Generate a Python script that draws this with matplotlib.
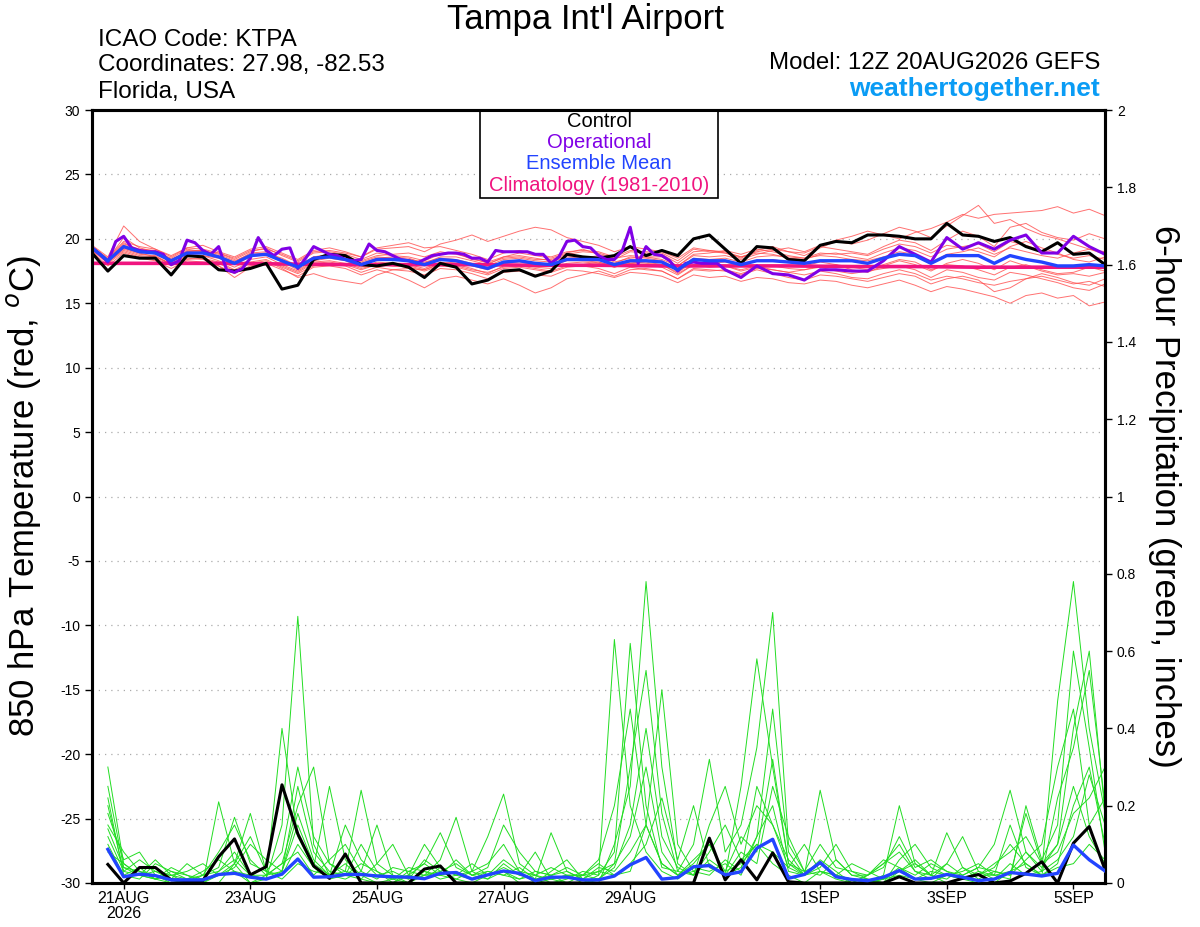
import numpy as np
import matplotlib
matplotlib.use("Agg")
import matplotlib.pyplot as plt
from matplotlib.patches import Rectangle

plt.rcParams['font.family'] = ['Liberation Sans', 'DejaVu Sans']
plt.rcParams['axes.unicode_minus'] = False

# forecast hours from 12Z 20AUG2026 (6-hourly, 0..384)
hours = list(range(0, 385, 6))
precip_hours = hours[1:]

date_ticks = [12, 60, 108, 156, 204, 276, 324, 372]
date_labels = ['21AUG\n2026', '23AUG', '25AUG', '27AUG', '29AUG', '1SEP', '3SEP', '5SEP']

# climatology, one value per day
clim_hours = list(range(0, 385, 24))
clim_temp = [18.1, 18.1, 18.1, 18.05, 18.0, 18.0, 18.0, 17.95, 17.95, 17.9,
             17.9, 17.9, 17.85, 17.85, 17.8, 17.8, 17.8]

mean_temp = [19.3, 18.3, 19.4, 19.0, 18.9, 18.3, 18.9, 18.9, 18.6, 18.1,
             18.7, 18.8, 18.3, 17.8, 18.5, 18.6, 18.4, 18.0, 18.4, 18.4,
             18.3, 18.0, 18.4, 18.3, 18.0, 17.7, 18.2, 18.3, 18.1, 18.0,
             18.4, 18.4, 18.4, 18.0, 18.3, 18.3, 18.2, 17.6, 18.4, 18.3,
             18.3, 18.0, 18.3, 18.3, 18.2, 18.1, 18.3, 18.3, 18.3, 18.1,
             18.5, 18.8, 18.7, 18.1, 18.7, 18.7, 18.7, 18.1, 18.7, 18.4,
             18.2, 17.9, 17.9, 18.0, 17.9]

control_temp = [18.9, 17.5, 18.7, 18.5, 18.5, 17.2, 18.7, 18.6, 17.6, 17.5,
                17.7, 18.1, 16.1, 16.4, 18.4, 18.8, 18.7, 18.0, 17.9, 18.1,
                17.8, 17.0, 18.1, 17.8, 16.5, 16.8, 17.5, 17.6, 17.1, 17.5,
                18.8, 18.6, 18.5, 18.7, 19.4, 18.7, 19.1, 18.7, 20.0, 20.3,
                19.2, 18.1, 19.4, 19.3, 18.4, 18.3, 19.5, 19.8, 19.7, 20.3,
                20.3, 20.2, 20.0, 20.0, 21.2, 20.3, 20.2, 19.8, 20.1, 19.4,
                19.0, 19.7, 18.8, 18.9, 18.0]

# operational run: 3-hourly to 240 h, 6-hourly after
op_hours = list(range(0, 241, 3)) + list(range(246, 385, 6))
op_temp = [19.3, 18.8, 18.2, 19.8, 20.2, 19.3, 19.1, 19.0, 19.0, 18.8,
           18.0, 18.3, 19.9, 19.7, 19.1, 18.8, 19.4, 17.6, 17.4, 17.7,
           18.5, 20.1, 19.1, 18.7, 19.2, 19.3, 17.7, 18.5, 19.4, 19.1,
           18.8, 18.7, 18.4, 18.3, 18.4, 19.6, 19.1, 19.0, 18.7, 18.4,
           18.3, 18.1, 18.4, 18.7, 18.8, 18.9, 18.9, 18.8, 18.5, 18.5,
           18.2, 19.1, 19.0, 19.0, 19.0, 19.0, 18.8, 18.8, 18.1, 18.6,
           19.8, 19.9, 19.4, 19.3, 18.7, 18.4, 18.4, 19.1, 20.9, 18.1,
           19.4, 18.8, 18.7, 18.3, 17.5, 18.1, 18.2, 18.1, 18.1, 18.1,
           17.6,
           17.0, 17.9, 17.3, 17.2, 16.8, 17.6, 17.6, 17.5, 17.5, 18.3,
           19.4, 18.8, 18.2, 20.1, 19.2, 19.7, 19.2, 19.9, 20.3, 18.9,
           18.9, 20.2, 19.4, 18.8]

# ensemble members, 850 hPa temperature
mem_t01 = [19.4, 18.4, 20.1, 19.3, 19.0, 18.5, 19.2, 19.0, 18.9, 18.4,
           19.0, 19.3, 18.7, 18.2, 18.9, 19.0, 18.8, 18.4, 18.9, 18.7,
           18.6, 18.3, 18.8, 18.9, 18.4, 18.2, 18.6, 18.9, 18.7, 18.5,
           18.9, 19.2, 18.8, 18.4, 19.0, 18.9, 18.8, 18.1, 19.0, 19.1,
           18.9, 18.5, 19.1, 19.4, 19.0, 18.7, 19.3, 19.8, 19.6, 19.9,
           20.4, 20.9, 20.6, 20.1, 21.0, 21.8, 22.6, 21.2, 21.5, 20.8,
           20.3, 20.0, 19.6, 19.2, 19.0]
mem_t02 = [19.1, 18.1, 19.0, 18.6, 18.5, 17.9, 18.4, 18.5, 18.2, 17.6,
           18.2, 18.4, 17.8, 17.3, 17.9, 18.1, 17.9, 17.4, 17.8, 17.6,
           17.5, 17.2, 17.7, 17.6, 17.3, 16.9, 17.4, 17.5, 17.2, 17.1,
           17.6, 17.5, 17.3, 17.0, 17.4, 17.3, 17.1, 16.6, 17.2, 17.0,
           17.1, 16.7, 17.0, 16.9, 16.6, 16.5, 16.8, 16.7, 16.4, 16.2,
           16.5, 16.8, 16.4, 15.9, 16.3, 16.1, 15.8, 15.5, 15.0, 15.6,
           15.8, 15.4, 15.6, 14.8, 15.1]
mem_t03 = [19.5, 18.6, 21.0, 19.8, 19.2, 18.6, 19.3, 19.5, 19.0, 18.6,
           19.2, 19.4, 18.9, 18.4, 19.1, 19.3, 19.0, 18.6, 19.2, 19.3,
           19.4, 19.0, 19.6, 19.9, 20.3, 19.8, 20.2, 20.6, 20.9, 20.7,
           20.1, 19.8, 19.5, 19.0, 19.4, 19.2, 19.0, 18.5, 19.3, 19.1,
           19.0, 18.6, 18.9, 18.8, 18.5, 18.4, 18.8, 18.9, 18.6, 18.4,
           18.9, 19.3, 19.1, 18.6, 19.2, 19.4, 19.6, 19.0, 19.8, 19.5,
           19.1, 18.8, 18.5, 18.7, 18.4]
mem_t04 = [19.0, 17.9, 18.9, 18.5, 18.3, 17.7, 18.3, 18.2, 17.9, 17.3,
           17.9, 18.1, 17.6, 17.1, 17.8, 17.9, 17.7, 17.2, 17.6, 17.3,
           16.8, 16.2, 16.9, 17.1, 16.8, 16.5, 16.9, 16.4, 15.8, 16.2,
           16.9, 17.2, 17.5, 17.1, 17.6, 17.7, 17.5, 16.9, 17.6, 17.5,
           17.6, 17.3, 17.7, 17.6, 17.4, 17.2, 17.5, 17.3, 17.0, 16.9,
           17.3, 17.6, 17.3, 16.8, 17.1, 16.9, 16.6, 16.4, 16.7, 16.9,
           17.1, 16.8, 16.5, 16.7, 16.3]
mem_t05 = [19.3, 18.3, 19.6, 19.2, 19.1, 18.4, 19.0, 19.1, 18.8, 18.3,
           18.8, 18.9, 18.5, 17.9, 18.6, 18.7, 18.6, 18.2, 18.6, 18.5,
           18.4, 18.2, 18.5, 18.4, 18.1, 17.9, 18.4, 18.5, 18.3, 18.2,
           18.6, 18.5, 18.7, 18.2, 18.5, 18.6, 18.4, 17.9, 18.7, 18.6,
           18.7, 18.4, 18.8, 19.1, 19.3, 19.0, 19.5, 19.9, 20.2, 20.6,
           20.3, 20.0, 20.5, 20.8, 21.3, 21.9, 21.6, 21.9, 22.0, 22.1,
           22.2, 22.5, 22.0, 22.3, 21.8]
mem_t06 = [19.2, 18.2, 19.2, 18.8, 18.7, 18.0, 18.6, 18.7, 18.3, 17.8,
           18.4, 18.6, 18.0, 17.5, 18.2, 18.3, 18.1, 17.7, 18.0, 17.9,
           17.8, 17.5, 17.9, 17.8, 17.5, 17.2, 17.7, 17.8, 17.6, 17.4,
           17.8, 17.9, 17.7, 17.3, 17.8, 17.6, 17.5, 16.9, 17.7, 17.6,
           17.5, 17.2, 17.6, 17.3, 17.0, 16.8, 17.2, 17.1, 16.9, 16.7,
           17.0, 17.3, 17.1, 16.5, 16.9, 17.1, 16.8, 15.9, 16.2, 16.9,
           17.3, 17.0, 16.6, 16.4, 16.9]
mem_t07 = [19.4, 18.5, 19.8, 19.4, 19.2, 18.7, 19.3, 19.2, 18.9, 18.5,
           19.1, 19.2, 18.8, 18.3, 19.0, 19.1, 18.9, 18.6, 19.3, 19.5,
           19.7, 19.3, 19.4, 19.1, 18.8, 18.4, 18.9, 19.1, 18.8, 18.6,
           19.0, 19.1, 19.0, 18.6, 19.1, 19.0, 18.9, 18.3, 19.2, 19.0,
           18.9, 18.6, 19.0, 19.2, 19.0, 18.9, 19.4, 19.2, 19.0, 18.8,
           19.4, 19.9, 19.7, 19.1, 19.9, 20.6, 20.2, 19.4, 20.9, 21.2,
           20.5, 20.1, 19.9, 20.4, 20.0]
mem_t08 = [19.2, 18.3, 19.5, 19.1, 18.8, 18.2, 18.8, 18.7, 18.5, 18.0,
           18.6, 18.8, 18.2, 17.6, 18.3, 18.5, 18.3, 17.8, 18.2, 18.1,
           18.0, 17.7, 18.2, 18.0, 17.7, 17.3, 17.9, 18.0, 17.8, 17.7,
           18.1, 18.2, 18.1, 17.8, 18.1, 18.2, 18.0, 17.4, 18.2, 18.1,
           18.2, 17.9, 18.3, 18.4, 18.2, 17.9, 18.2, 18.0, 17.6, 17.4,
           17.9, 18.3, 18.0, 17.5, 18.1, 18.4, 18.1, 17.6, 18.3, 17.9,
           17.5, 17.2, 17.3, 17.1, 17.4]
mem_t09 = [19.3, 18.4, 19.3, 18.9, 19.0, 18.4, 19.0, 19.0, 18.7, 18.2,
           18.9, 19.0, 18.4, 17.9, 18.5, 18.6, 18.5, 18.1, 18.5, 18.6,
           18.5, 18.1, 18.6, 18.6, 18.3, 18.0, 18.6, 18.7, 18.5, 18.3,
           18.7, 18.6, 18.5, 18.1, 18.6, 18.5, 18.3, 17.7, 18.5, 18.4,
           18.5, 18.2, 18.6, 18.7, 18.6, 18.5, 18.9, 18.8, 18.9, 18.7,
           19.2, 19.6, 19.4, 18.9, 19.5, 19.3, 19.0, 18.6, 19.4, 19.8,
           19.3, 18.9, 18.4, 18.2, 18.6]
mem_t10 = [19.1, 18.2, 19.1, 18.7, 18.6, 18.0, 18.5, 18.4, 18.1, 17.5,
           18.1, 18.3, 17.7, 17.0, 17.3, 16.9, 16.7, 16.5, 17.2, 17.6,
           17.7, 17.6, 18.0, 17.9, 17.6, 17.4, 17.8, 17.9, 17.7, 17.5,
           17.9, 18.0, 18.2, 17.9, 18.1, 18.0, 17.8, 17.2, 18.0, 18.0,
           17.9, 17.6, 17.9, 17.6, 17.4, 17.6, 17.8, 17.5, 17.3, 17.5,
           17.7, 17.9, 17.6, 17.0, 17.6, 17.4, 17.0, 16.8, 17.4, 17.2,
           16.9, 16.6, 16.2, 16.0, 16.5]
mem_t11 = [19.4, 18.4, 19.7, 19.1, 19.0, 18.3, 19.1, 19.1, 18.6, 18.1,
           18.7, 18.8, 18.3, 17.9, 18.6, 18.8, 18.6, 18.3, 18.7, 18.8,
           18.9, 18.6, 19.0, 18.8, 18.5, 18.1, 18.5, 18.6, 18.4, 18.4,
           18.8, 19.0, 18.9, 18.5, 18.7, 18.6, 18.6, 17.9, 18.8, 18.9,
           19.1, 18.8, 19.2, 19.0, 18.7, 18.5, 18.7, 18.6, 18.4, 18.3,
           18.6, 19.0, 18.8, 18.2, 18.8, 19.0, 19.3, 18.8, 19.3, 19.0,
           18.7, 18.5, 18.9, 19.2, 18.8]
mem_t12 = [19.2, 18.2, 19.3, 18.9, 18.6, 18.1, 18.7, 18.6, 17.9, 17.0,
           17.8, 18.2, 17.9, 17.4, 18.1, 18.2, 18.0, 17.6, 18.0, 17.9,
           17.9, 17.6, 18.1, 18.2, 17.9, 17.6, 18.1, 18.2, 18.0, 17.9,
           18.3, 18.3, 18.2, 17.8, 18.2, 18.1, 18.0, 17.3, 18.0, 17.8,
           17.9, 17.5, 17.8, 17.9, 17.7, 17.6, 17.9, 18.0, 17.8, 17.6,
           18.0, 18.4, 18.2, 17.6, 18.0, 17.9, 17.6, 17.2, 17.8, 18.0,
           17.6, 17.3, 17.4, 17.8, 17.5]

# 6-hour precipitation (inches), hours 6..384
mean_precip = [0.087, 0.016, 0.023, 0.019, 0.008, 0.008, 0.008, 0.022, 0.025, 0.015,
               0.010, 0.023, 0.062, 0.015, 0.016, 0.022, 0.022, 0.018, 0.016, 0.015,
               0.011, 0.025, 0.027, 0.010, 0.021, 0.031, 0.025, 0.006, 0.015, 0.015,
               0.008, 0.008, 0.018, 0.047, 0.066, 0.010, 0.014, 0.042, 0.045, 0.021,
               0.029, 0.090, 0.113, 0.012, 0.022, 0.053, 0.016, 0.009, 0.006, 0.015,
               0.032, 0.010, 0.012, 0.022, 0.015, 0.006, 0.010, 0.027, 0.023, 0.018,
               0.025, 0.098, 0.060, 0.031]
control_precip = [0.048, 0.0, 0.040, 0.040, 0.008, 0.006, 0.006, 0.068, 0.114, 0.021,
                  0.042, 0.254, 0.127, 0.044, 0.012, 0.075, 0.0, 0.0, 0.0, 0.0,
                  0.036, 0.044, 0.0, 0.0, 0.0, 0.0, 0.0, 0.0, 0.0, 0.0,
                  0.0, 0.0, 0.0, 0.0, 0.0, 0.0, 0.0, 0.0, 0.116, 0.008,
                  0.060, 0.008, 0.078, 0.003, 0.0, 0.0, 0.0, 0.0, 0.0, 0.0,
                  0.016, 0.0, 0.0, 0.0, 0.012, 0.022, 0.0, 0.005, 0.025, 0.055,
                  0.0, 0.103, 0.146, 0.034]

mem_p01 = [0.30, 0.05, 0.02, 0.01, 0, 0, 0, 0.03, 0.08, 0.02,
           0.01, 0.15, 0.69, 0.10, 0.02, 0.05, 0.01, 0, 0, 0.03,
           0.05, 0.02, 0.01, 0, 0.02, 0.06, 0.03, 0, 0.01, 0.02,
           0, 0.01, 0.05, 0.12, 0.30, 0.08, 0.02, 0.05, 0.10, 0.02,
           0.04, 0.12, 0.20, 0.03, 0.02, 0.06, 0.03, 0, 0, 0.01,
           0.04, 0.01, 0, 0.02, 0.01, 0, 0, 0.03, 0.08, 0.04,
           0.10, 0.25, 0.12, 0.05]
mem_p02 = [0.20, 0.03, 0.06, 0.03, 0.02, 0, 0, 0, 0.05, 0.18,
           0.03, 0.02, 0.10, 0.04, 0.25, 0.06, 0.02, 0, 0.01, 0,
           0.02, 0.06, 0.17, 0.03, 0.01, 0.03, 0, 0, 0.03, 0.06,
           0.01, 0, 0.10, 0.25, 0.78, 0.30, 0.05, 0.02, 0.08, 0.15,
           0.06, 0.10, 0.05, 0.02, 0, 0.03, 0.01, 0, 0.02, 0.05,
           0.10, 0.03, 0.02, 0, 0.01, 0.02, 0.04, 0.10, 0.05, 0.02,
           0.05, 0.20, 0.30, 0.10]
mem_p03 = [0.15, 0.08, 0.03, 0.01, 0.04, 0.02, 0, 0.21, 0.05, 0,
           0.02, 0.05, 0.20, 0.30, 0.05, 0.02, 0.10, 0.03, 0, 0.02,
           0.01, 0.04, 0.02, 0.03, 0.12, 0.23, 0.05, 0.02, 0, 0.01,
           0.03, 0.02, 0.08, 0.62, 0.20, 0.04, 0.03, 0.10, 0.32, 0.08,
           0.15, 0.35, 0.70, 0.10, 0.03, 0.05, 0.02, 0.01, 0, 0.02,
           0.20, 0.05, 0.02, 0.13, 0.04, 0.01, 0.03, 0.02, 0.06, 0.10,
           0.30, 0.45, 0.15, 0.22]
mem_p04 = [0.10, 0.02, 0.01, 0.05, 0.03, 0.01, 0, 0.02, 0.04, 0.10,
           0.06, 0.03, 0.15, 0.05, 0.02, 0.03, 0.24, 0.05, 0.02, 0,
           0.03, 0.01, 0.02, 0.05, 0.02, 0.04, 0.02, 0.08, 0.01, 0,
           0.02, 0.05, 0.02, 0.03, 0.15, 0.50, 0.10, 0.03, 0.05, 0.02,
           0.25, 0.58, 0.30, 0.05, 0.02, 0.24, 0.06, 0.02, 0.01, 0,
           0.03, 0.06, 0.02, 0.05, 0.02, 0.04, 0.10, 0.24, 0.08, 0.03,
           0.47, 0.78, 0.40, 0.18]
mem_p05 = [0.25, 0.04, 0.03, 0.02, 0, 0.01, 0.03, 0.06, 0.03, 0,
           0.01, 0.40, 0.12, 0.04, 0.01, 0.02, 0.05, 0.03, 0.01, 0.02,
           0.10, 0.04, 0.02, 0.01, 0.03, 0.02, 0.01, 0.03, 0.02, 0,
           0, 0.02, 0.63, 0.20, 0.08, 0.03, 0.01, 0.04, 0.03, 0.05,
           0.02, 0.12, 0.45, 0.08, 0.02, 0.05, 0.02, 0, 0.02, 0.05,
           0.08, 0.03, 0.01, 0.05, 0.12, 0.03, 0.02, 0.01, 0.20, 0.06,
           0.15, 0.60, 0.35, 0.08]
mem_p06 = [0.18, 0.06, 0.08, 0.02, 0.01, 0.05, 0.02, 0.08, 0.15, 0.06,
           0.02, 0.05, 0.08, 0.02, 0.06, 0.10, 0.03, 0.01, 0.04, 0.03,
           0.02, 0.03, 0.05, 0.02, 0.04, 0.15, 0.08, 0.03, 0.02, 0.04,
           0.02, 0.01, 0.04, 0.15, 0.40, 0.12, 0.04, 0.02, 0.15, 0.25,
           0.10, 0.20, 0.15, 0.06, 0.02, 0.04, 0.10, 0.03, 0.01, 0,
           0.06, 0.10, 0.04, 0.02, 0.03, 0.05, 0.02, 0.15, 0.04, 0.02,
           0.22, 0.35, 0.55, 0.20]
mem_p07 = [0.12, 0.03, 0.02, 0.06, 0.02, 0.03, 0.05, 0.02, 0.03, 0.02,
           0.01, 0.03, 0.25, 0.08, 0.03, 0.02, 0.01, 0.05, 0.10, 0.02,
           0.05, 0.13, 0.04, 0.02, 0.01, 0.05, 0.02, 0.01, 0.13, 0.03,
           0.01, 0.03, 0.02, 0.05, 0.10, 0.22, 0.06, 0.20, 0.04, 0.02,
           0.08, 0.05, 0.25, 0.12, 0.03, 0.02, 0.06, 0.02, 0.02, 0.04,
           0.12, 0.04, 0.06, 0.03, 0.01, 0.02, 0.05, 0.08, 0.12, 0.05,
           0.08, 0.18, 0.22, 0.30]
mem_p08 = [0.22, 0.02, 0.04, 0.01, 0.02, 0.01, 0.02, 0.04, 0.17, 0.05,
           0.03, 0.08, 0.30, 0.12, 0.05, 0.03, 0.02, 0.02, 0.03, 0.01,
           0.02, 0.02, 0.03, 0.01, 0.02, 0.03, 0.01, 0.02, 0.04, 0.02,
           0.02, 0.06, 0.20, 0.45, 0.15, 0.05, 0.02, 0.03, 0.02, 0.06,
           0.03, 0.25, 0.15, 0.04, 0.02, 0.03, 0.02, 0.01, 0, 0.01,
           0.02, 0.01, 0.03, 0.02, 0.01, 0.03, 0.01, 0.05, 0.02, 0.03,
           0.06, 0.12, 0.28, 0.15]
mem_p09 = [0.08, 0.05, 0.02, 0.01, 0.03, 0.02, 0.01, 0.02, 0.05, 0.12,
           0.03, 0.01, 0.05, 0.03, 0.02, 0.15, 0.06, 0.02, 0.01, 0.04,
           0.03, 0.02, 0.06, 0.02, 0.03, 0.02, 0.04, 0.01, 0.02, 0.03,
           0.01, 0.04, 0.03, 0.08, 0.15, 0.05, 0.02, 0.06, 0.10, 0.03,
           0.12, 0.08, 0.32, 0.05, 0.03, 0.10, 0.04, 0.03, 0.02, 0.06,
           0.04, 0.02, 0.05, 0.03, 0.02, 0.04, 0.03, 0.02, 0.18, 0.05,
           0.10, 0.40, 0.60, 0.18]
mem_p10 = [0.14, 0.04, 0.02, 0.03, 0.01, 0, 0.02, 0.03, 0.06, 0.02,
           0.02, 0.03, 0.18, 0.06, 0.02, 0.01, 0.03, 0.15, 0.02, 0.01,
           0.06, 0.03, 0.01, 0.03, 0.05, 0.10, 0.03, 0.02, 0.01, 0.02,
           0.02, 0.03, 0.05, 0.30, 0.55, 0.18, 0.03, 0.02, 0.06, 0.03,
           0.05, 0.10, 0.08, 0.04, 0.10, 0.03, 0.02, 0.05, 0.03, 0.01,
           0.03, 0.05, 0.02, 0.01, 0.04, 0.02, 0.02, 0.03, 0.05, 0.02,
           0.04, 0.05, 0.10, 0.06]

temp_members = [mem_t01, mem_t02, mem_t03, mem_t04, mem_t05, mem_t06,
                mem_t07, mem_t08, mem_t09, mem_t10, mem_t11, mem_t12]
precip_members = [mem_p01, mem_p02, mem_p03, mem_p04, mem_p05,
                  mem_p06, mem_p07, mem_p08, mem_p09, mem_p10]

RED = '#ff4d4d'
GREEN = '#22dd22'
PURPLE = '#8000e6'
BLUE = '#2244ff'
PINK = '#f0147f'

fig = plt.figure(figsize=(12, 9.27), dpi=100)
ax = fig.add_axes([0.0767, 0.0475, 0.8442, 0.8338])
ax2 = ax.twinx()

for m in temp_members:
    ax.plot(hours, m, color=RED, lw=0.7, alpha=0.8, zorder=2)
ax.plot(clim_hours, clim_temp, color=PINK, lw=2.6, zorder=3)
ax.plot(hours, control_temp, color='black', lw=2.2, zorder=4)
ax.plot(op_hours, op_temp, color=PURPLE, lw=2.2, zorder=5)
ax.plot(hours, mean_temp, color=BLUE, lw=2.4, zorder=6)

for m in precip_members:
    ax2.plot(precip_hours, m, color=GREEN, lw=0.7, zorder=2)
ax2.plot(precip_hours, control_precip, color='black', lw=2.2, zorder=4)
ax2.plot(precip_hours, mean_precip, color=BLUE, lw=2.4, zorder=5)

ax.set_xlim(0, 384)
ax.set_ylim(-30, 30)
ax2.set_ylim(0, 2)
ax.set_yticks(range(-30, 31, 5))
ax2.set_yticks([0, 0.2, 0.4, 0.6, 0.8, 1, 1.2, 1.4, 1.6, 1.8, 2])
ax2.set_yticklabels(['0', '0.2', '0.4', '0.6', '0.8', '1', '1.2', '1.4', '1.6', '1.8', '2'])
ax.set_xticks(date_ticks)
ax.set_xticklabels(date_labels, fontsize=11.5, linespacing=1.0)
ax.tick_params(axis='y', labelsize=10, length=5, width=1)
ax2.tick_params(axis='y', labelsize=10, length=5, width=1)
ax.tick_params(axis='x', length=4, width=1, pad=2)

for y in range(-25, 30, 5):
    ax.axhline(y, color='#aaaaaa', lw=0.9, ls=(0, (1, 4)), zorder=1)

for a in (ax, ax2):
    for s in a.spines.values():
        s.set_linewidth(2.2)

ax.set_ylabel('850 hPa Temperature (red, $^o$C)', fontsize=25, labelpad=12)
ax2.set_ylabel('6-hour Precipitation (green, inches)', fontsize=25,
               rotation=270, labelpad=32)

# legend box
ax.add_patch(Rectangle((0.383, 0.886), 0.235, 0.114, transform=ax.transAxes,
                       facecolor='white', edgecolor='black', lw=1.2, zorder=10))
leg_items = [('Control', 'black', 0.9858), ('Operational', PURPLE, 0.9586),
             ('Ensemble Mean', BLUE, 0.9314), ('Climatology (1981-2010)', PINK, 0.903)]
for txt, c, yy in leg_items:
    ax.text(0.5005, yy, txt, color=c, fontsize=14.5, ha='center', va='center',
            transform=ax.transAxes, zorder=11)

fig.text(0.4875, 0.979, "Tampa Int'l Airport", fontsize=25, ha='center', va='center')
fig.text(0.0817, 0.9568, 'ICAO Code: KTPA', fontsize=17.5, ha='left', va='center')
fig.text(0.0817, 0.9299, 'Coordinates: 27.98, -82.53', fontsize=17.5, ha='left', va='center')
fig.text(0.0817, 0.9008, 'Florida, USA', fontsize=17.5, ha='left', va='center')
fig.text(0.9167, 0.932, 'Model: 12Z 20AUG2026 GEFS', fontsize=17.3, ha='right', va='center')
fig.text(0.9167, 0.904, 'weathertogether.net', fontsize=19, fontweight='bold',
         color='#0a9cf5', ha='right', va='center')

fig.savefig('out.png', dpi=100)
